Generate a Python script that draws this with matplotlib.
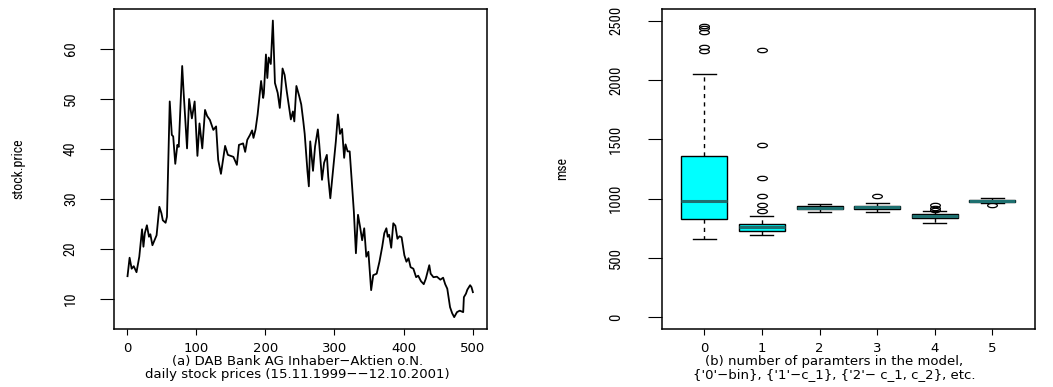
import numpy as np
import matplotlib
matplotlib.use("Agg")
import matplotlib.pyplot as plt
from matplotlib import font_manager
from matplotlib.path import Path
from matplotlib.transforms import Affine2D

# (a) daily stock price (trading day, price)
day = [1, 4, 7, 10, 14, 18, 22, 24, 26, 29, 32, 34, 37, 40, 43, 47, 50, 52, 56, 58,
       62, 65, 67, 70, 73, 75, 80, 82, 87, 90, 94, 98, 102, 105, 109, 113, 116, 120,
       125, 129, 132, 136, 142, 146, 154, 159, 162, 168, 171, 174, 178, 181, 183, 186,
       189, 194, 197, 198, 201, 203, 205, 208, 211, 214, 218, 221, 223, 225, 228, 231,
       235, 237, 240, 242, 245, 249, 252, 255, 257, 261, 263, 265, 269, 272, 276, 278,
       282, 285, 289, 291, 294, 298, 302, 305, 308, 311, 314, 316, 319, 322, 325, 328,
       331, 334, 337, 340, 343, 346, 349, 353, 356, 361, 365, 369, 372, 375, 377, 379,
       382, 385, 388, 391, 394, 397, 401, 404, 407, 410, 414, 418, 421, 425, 429, 432,
       437, 439, 443, 448, 453, 457, 460, 463, 467, 470, 473, 477, 481, 486, 487, 490,
       492, 496, 498, 500]
price = [14.5, 18.2, 16.0, 16.5, 15.3, 18.4, 23.9, 20.4, 23.1, 24.7, 22.4, 22.9, 20.7,
         21.7, 22.7, 28.4, 27.1, 25.7, 25.2, 26.4, 49.5, 42.8, 42.5, 37.0, 40.8, 40.4,
         56.6, 51.5, 40.1, 50.0, 46.1, 49.5, 38.6, 45.1, 40.1, 47.8, 46.6, 45.8, 43.8,
         44.5, 37.8, 35.0, 40.6, 38.8, 38.4, 36.8, 40.8, 41.1, 39.4, 41.8, 42.8, 43.7,
         42.2, 43.9, 46.9, 53.6, 50.2, 51.1, 58.9, 54.2, 58.3, 57.0, 65.7, 53.2, 51.2,
         48.2, 51.6, 56.1, 54.8, 51.6, 47.9, 45.9, 47.5, 45.5, 52.6, 50.6, 48.9, 45.5,
         43.0, 35.5, 32.5, 41.5, 35.6, 40.5, 43.9, 41.0, 33.8, 37.2, 38.8, 34.4, 30.1,
         35.9, 41.5, 46.9, 43.0, 44.0, 38.2, 40.9, 39.5, 39.5, 33.5, 27.5, 19.1, 26.8,
         24.4, 21.7, 24.1, 18.4, 19.4, 11.7, 14.7, 15.0, 17.4, 20.4, 23.1, 24.1, 22.4,
         22.8, 20.2, 25.1, 24.6, 22.0, 22.5, 22.3, 18.7, 17.4, 18.1, 16.3, 16.0, 14.3,
         14.6, 13.5, 12.9, 14.0, 16.7, 15.0, 14.3, 14.4, 13.8, 14.2, 12.9, 12.0, 8.3,
         7.1, 6.3, 7.3, 7.6, 7.3, 10.3, 11.0, 11.8, 12.7, 12.3, 11.3]

# (b) mse box summaries per number of parameters
n_params = [0, 1, 2, 3, 4, 5]
q1 = [826, 725, 908, 910, 835, 972]
med = [978, 756, 920, 925, 852, 980]
q3 = [1361, 788, 933, 938, 869, 986]
whis_lo = [661, 689, 889, 889, 796, 961]
whis_hi = [2052, 849, 956, 965, 891, 1007]
fliers = [[2455, 2435, 2405, 2275, 2240],
          [891, 948, 1018, 1172, 1448, 2255],
          [],
          [1018],
          [906, 922, 942],
          [942]]

names = {f.name for f in font_manager.fontManager.ttflist}
narrow = "DejaVu Sans"
for cand in ["Liberation Sans Narrow", "Roboto Condensed", "DejaVu Sans Condensed"]:
    if cand in names:
        narrow = cand
        break
wide = "DejaVu Sans"

W, H = 1053, 387
fig = plt.figure(figsize=(W / 100, H / 100), dpi=100)
ax1 = fig.add_axes([113.7 / W, (H - 329) / H, 373 / W, 320.3 / H])
ax2 = fig.add_axes([661.7 / W, (H - 329) / H, 373.3 / W, 320.3 / H])

for ax in (ax1, ax2):
    for s in ax.spines.values():
        s.set_linewidth(1.1)
    ax.tick_params(axis="x", direction="out", length=4.3, width=0.8, pad=5,
                   labelsize=9.5, labelfontfamily=wide)
    ax.tick_params(axis="y", direction="out", length=9.8, width=0.8,
                   labelrotation=90, labelsize=10.5, labelfontfamily=narrow)
    for lab in ax.get_yticklabels():
        lab.set_va("center")

# left: stock price line
ax1.plot(day, price, color="black", lw=1.3)
ax1.margins(x=0.04, y=0.04)
ax1.set_xticks([0, 100, 200, 300, 400, 500])
ax1.set_yticks([10, 20, 30, 40, 50, 60])
ax1.tick_params(axis="y", pad=16)
ax1.set_ylabel("stock.price", fontfamily=narrow, fontsize=10, va="center")
ax1.yaxis.set_label_coords(-0.255, 0.5)

# right: boxplot of mse
stats = []
for i in range(len(n_params)):
    stats.append(dict(med=med[i], q1=q1[i], q3=q3[i], whislo=whis_lo[i],
                      whishi=whis_hi[i], fliers=fliers[i]))
ellipse = Path.unit_circle().transformed(Affine2D().scale(1, 0.45))
ax2.bxp(stats, positions=n_params, widths=0.8, patch_artist=True,
        boxprops=dict(facecolor="#00ffff", edgecolor="black", lw=1),
        medianprops=dict(color="#1e7070", lw=2.2),
        whiskerprops=dict(color="black", lw=1, linestyle=(0, (3, 3))),
        capprops=dict(color="black", lw=1), capwidths=0.4,
        flierprops=dict(marker=ellipse, markersize=7, markerfacecolor="none",
                        markeredgecolor="black", markeredgewidth=0.9))
ax2.set_xlim(-0.74, 5.74)
ax2.set_ylim(-100, 2600)
ax2.set_xticks(n_params)
ax2.set_xticklabels([str(n) for n in n_params])
ax2.set_yticks([0, 500, 1000, 1500, 2000, 2500])
ax2.tick_params(axis="y", pad=18)
ax2.set_ylabel("mse", fontfamily=narrow, fontsize=10, va="center")
ax2.yaxis.set_label_coords(-0.267, 0.5)

# captions under each panel
fig.text(297.5 / W, (H - 361.7) / H, "(a) DAB Bank AG Inhaber\u2212Aktien o.N.",
         ha="center", va="center", fontsize=9.5, family=wide)
fig.text(297.5 / W, (H - 374.5) / H, "daily stock prices (15.11.1999\u2212\u221212.10.2001)",
         ha="center", va="center", fontsize=9.5, family=wide)
fig.text(834 / W, (H - 361.7) / H, "(b) number of paramters in the model,",
         ha="center", va="center", fontsize=9.5, family=wide)
fig.text(834 / W, (H - 374.5) / H, "{'0'\u2212bin}, {'1'\u2212c_1}, {'2'\u2212 c_1, c_2}, etc.",
         ha="center", va="center", fontsize=9.5, family=wide)

fig.savefig("out.png", dpi=100)
